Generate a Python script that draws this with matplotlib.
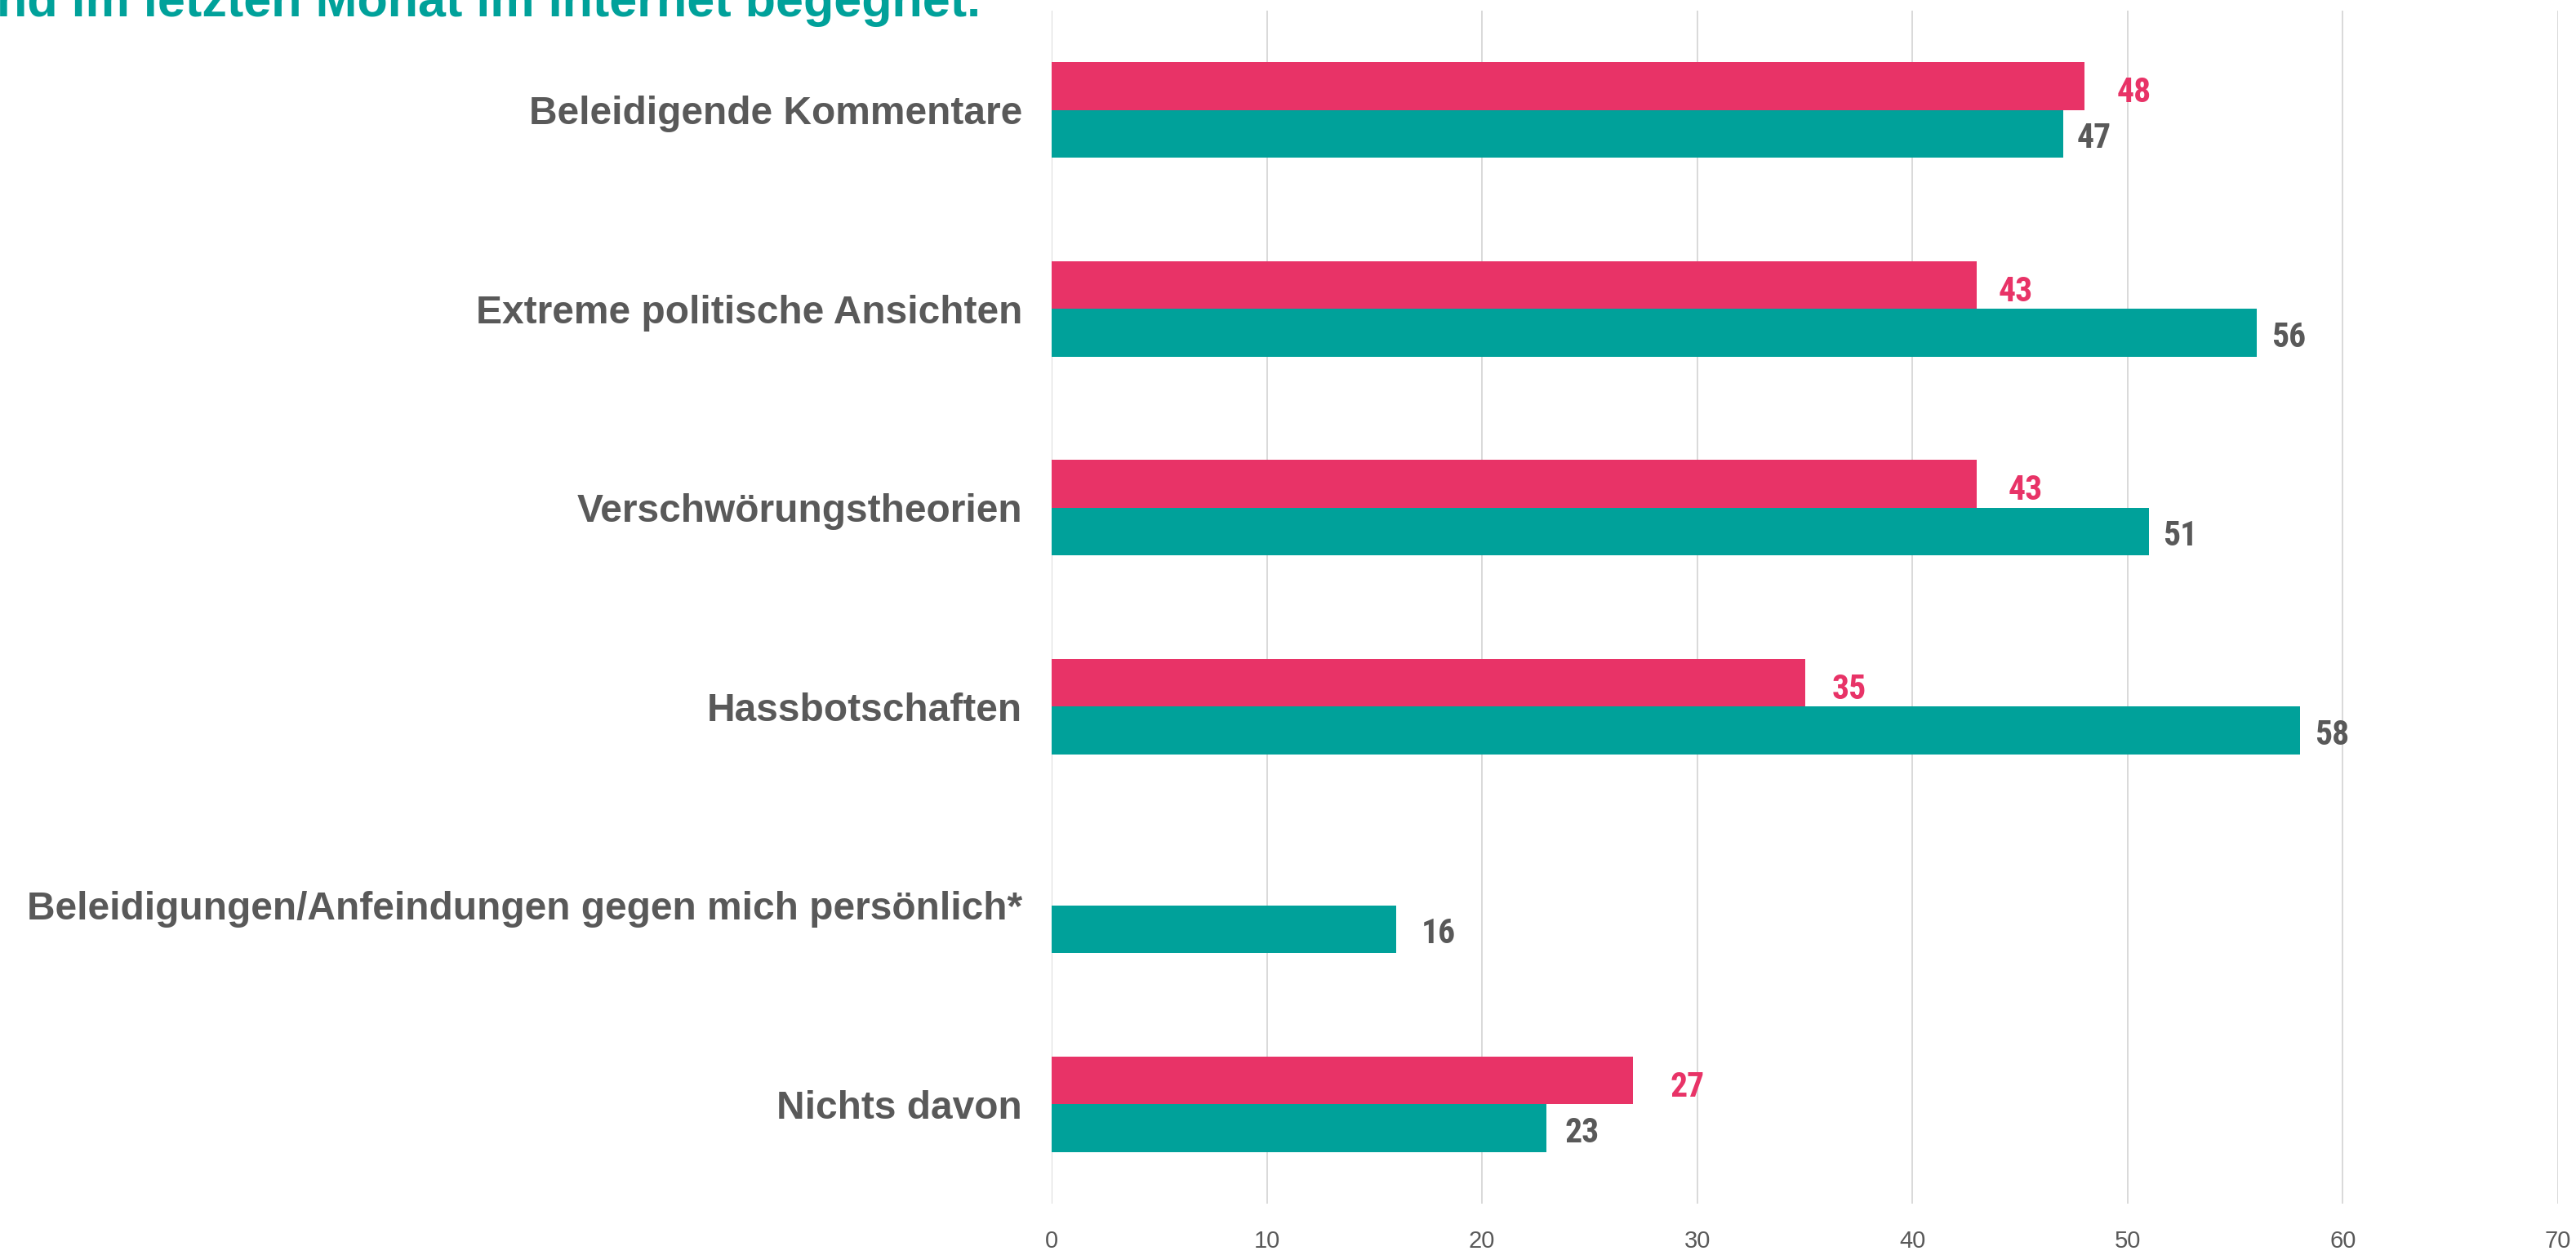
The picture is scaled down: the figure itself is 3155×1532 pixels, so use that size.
import numpy as np
import matplotlib.pyplot as plt

# Data
categories = [
    "Beleidigende Kommentare",
    "Extreme politische Ansichten",
    "Verschwörungstheorien",
    "Hassbotschaften",
    "Beleidigungen/Anfeindungen gegen mich persönlich*",
    "Nichts davon",
]
pink_values = [48, 43, 43, 35, np.nan, 27]
teal_values = [47, 56, 51, 58, 16, 23]
x_ticks = [0, 10, 20, 30, 40, 50, 60, 70]
title_text = "nd im letzten Monat im Internet begegnet."

# Styles
PINK = "#E83367"
TEAL = "#00A19A"
GRAY = "#595959"
GRID = "#D9D9D9"
# label nudges to the right of the bar end, in pixels
pink_nudge = [39, 26, 38, 33, 0, 46]
teal_nudge = [17, 18, 17, 18, 31, 22]

W, H, DPI = 3155, 1532, 100
fig = plt.figure(figsize=(W / DPI, H / DPI), dpi=DPI)
ax = fig.add_axes([1288 / W, 1 - 1474 / H, (3133 - 1288) / W, (1474 - 13) / H])

y = np.arange(len(categories))
bh = 0.24
ax.barh(y - bh / 2, pink_values, height=bh, color=PINK, zorder=3)
ax.barh(y + bh / 2, teal_values, height=bh, color=TEAL, zorder=3)

label_font = ["Roboto Condensed", "Liberation Sans Narrow", "Liberation Sans"]
for i in range(len(categories)):
    pv, tv = pink_values[i], teal_values[i]
    if not np.isnan(pv):
        ax.annotate(f"{pv:.0f}", (pv, y[i] - bh / 2), xytext=(pink_nudge[i] * 0.72, -6),
                    textcoords="offset points", ha="left", va="center",
                    fontsize=30, fontweight="bold", color=PINK, family=label_font)
    ax.annotate(f"{tv:.0f}", (tv, y[i] + bh / 2), xytext=(teal_nudge[i] * 0.72, -4),
                textcoords="offset points", ha="left", va="center",
                fontsize=30, fontweight="bold", color=GRAY, family=label_font)

ax.set_xlim(0, 70)
ax.set_ylim(len(categories) - 0.5, -0.5)
ax.set_xticks(x_ticks)
ax.set_xticklabels([str(t) for t in x_ticks], fontsize=21, color=GRAY,
                   family="Liberation Sans")
ax.set_yticks(y)
ax.set_yticklabels(categories, fontsize=34.5, fontweight="bold", color=GRAY,
                   family="Liberation Sans")
ax.tick_params(axis="both", length=0)
ax.tick_params(axis="x", pad=23)
ax.tick_params(axis="y", pad=26)
ax.xaxis.grid(True, color=GRID, linewidth=1.4, zorder=0)
ax.set_axisbelow(True)
for s in ax.spines.values():
    s.set_visible(False)

fig.text(-4 / W, 1 - 20 / H, title_text, ha="left", va="baseline",
         fontsize=44, fontweight="bold", color=TEAL, family="Liberation Sans")

fig.savefig("out.png", dpi=DPI)
